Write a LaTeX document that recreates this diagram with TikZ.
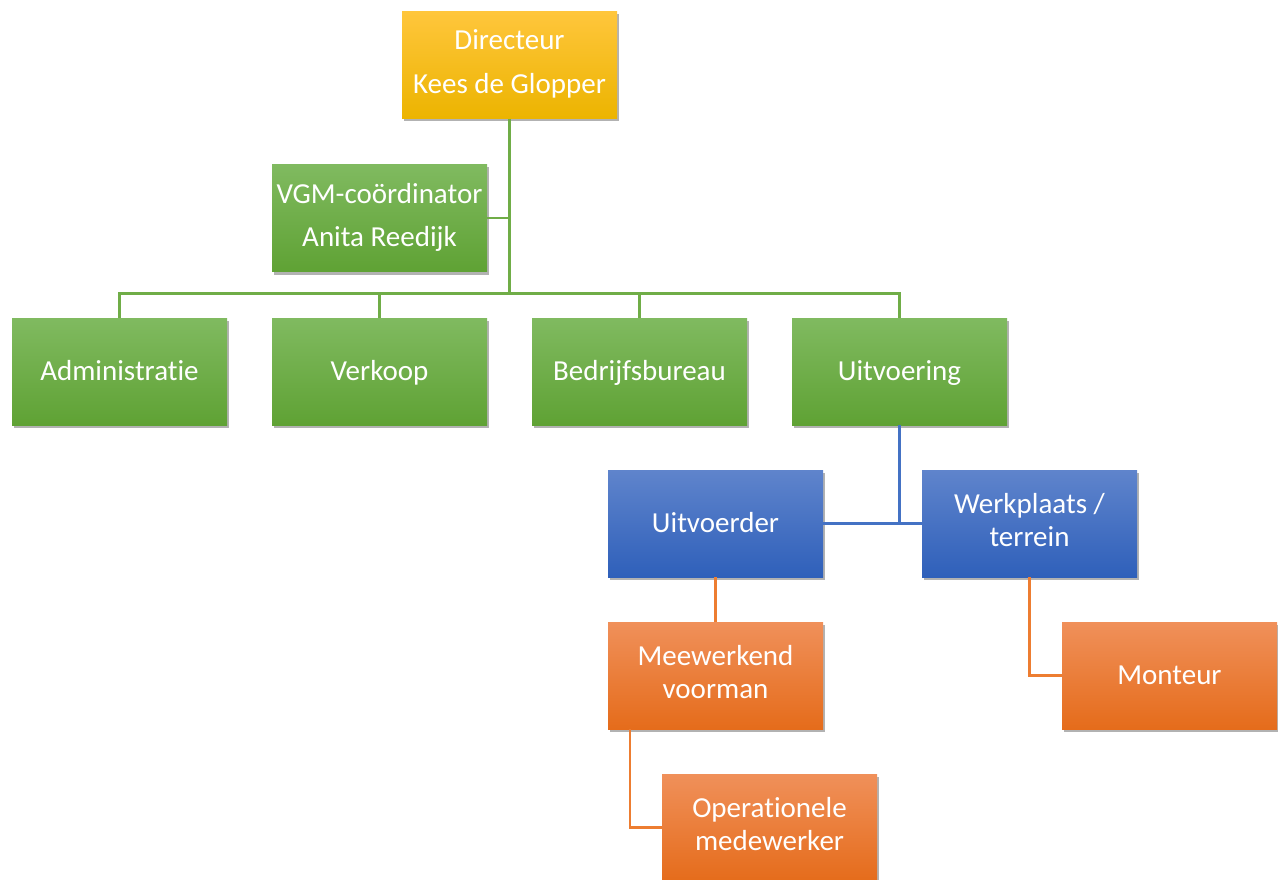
\documentclass[tikz,border=0pt]{standalone}
\usepackage{fontspec}
\setmainfont{Carlito}[Ligatures=CommonOff]
\usetikzlibrary{positioning, shadows}

\definecolor{goldtop}{HTML}{FFC63C}
\definecolor{goldmid}{HTML}{FFC000}
\definecolor{goldbot}{HTML}{ECB400}
\definecolor{greentop}{HTML}{80BA60}
\definecolor{greenmid}{HTML}{6DAD42}
\definecolor{greenbot}{HTML}{5FA234}
\definecolor{bluetop}{HTML}{5F84CC}
\definecolor{bluemid}{HTML}{4170C6}
\definecolor{bluebot}{HTML}{2F60BA}
\definecolor{orangetop}{HTML}{F0905A}
\definecolor{orangemid}{HTML}{F37D2F}
\definecolor{orangebot}{HTML}{E56C1B}
\definecolor{greenline}{HTML}{70AD47}
\definecolor{blueline}{HTML}{4472C4}
\definecolor{orangeline}{HTML}{ED7D31}

\newcommand{\orgstrut}{\rule[-7pt]{0pt}{31pt}}

\tikzset{
  orgbox/.style={minimum width=215pt, minimum height=107pt, inner sep=0pt,
    align=center, text=white, font=\fontsize{29}{33}\selectfont,
    execute at begin node=\orgstrut, execute at end node=\orgstrut,
    drop shadow={shadow xshift=2pt, shadow yshift=-3pt, opacity=0.3, fill=black}},
  goldbox/.style={orgbox, top color=goldtop, middle color=goldmid, bottom color=goldbot},
  greenbox/.style={orgbox, top color=greentop, middle color=greenmid, bottom color=greenbot},
  bluebox/.style={orgbox, top color=bluetop, middle color=bluemid, bottom color=bluebot},
  orangebox/.style={orgbox, top color=orangetop, middle color=orangemid, bottom color=orangebot},
  gline/.style={draw=greenline, line width=2.2pt},
  bline/.style={draw=blueline, line width=2.2pt},
  oline/.style={draw=orangeline, line width=2.2pt}
}

\begin{document}
\begin{tikzpicture}[x=1pt, y=-1pt]
  \useasboundingbox (0,0) rectangle (1278,880);

  % top levels
  \node[goldbox] (dir) at (509.5,65) {Directeur\\[11pt]Kees de Glopper};
  \node[greenbox] (vgm) at (379.5,218) {VGM-coördinator\\[10pt]Anita Reedijk};
  \node[greenbox] (adm) at (119.5,371.5) {Administratie};
  \node[greenbox] (verk) at (379.5,371.5) {Verkoop};
  \node[greenbox] (bedr) at (639.5,371.5) {Bedrijfsbureau};
  \node[greenbox] (uitv) at (899.5,371.5) {Uitvoering};

  % uitvoering
  \node[bluebox] (uitvd) at (715.5,523.5) {Uitvoerder};
  \node[bluebox] (werk) at (1029.5,523.5) {Werkplaats /\\terrein};
  \node[orangebox] (meew) at (715.5,675.5) {Meewerkend\\voorman};
  \node[orangebox] (mont) at (1169.5,675.5) {Monteur};
  \node[orangebox] (oper) at (769.5,827.5) {Operationele\\medewerker};

  \coordinate (gbus) at (509.5,293.5);

  % green lines
  \draw[gline] (dir.south) -- (dir.south |- gbus);
  \draw[gline] (vgm.east) -- (vgm.east -| dir.south);
  \draw[gline] (adm.north) -- (adm.north |- gbus) -- (uitv.north |- gbus) -- (uitv.north);
  \foreach \n in {verk, bedr}
    \draw[gline] (\n.north) -- (\n.north |- gbus);

  % blue lines
  \draw[bline] (uitv.south) -- (uitv.south |- uitvd.east);
  \draw[bline] (uitvd.east) -- (werk.west);

  % orange lines
  \draw[oline] (uitvd.south) -- (meew.north);
  \draw[oline] (werk.south) |- (mont.west);
  \draw[oline] ([xshift=22pt]meew.south west) |- (oper.west);
\end{tikzpicture}
\end{document}
